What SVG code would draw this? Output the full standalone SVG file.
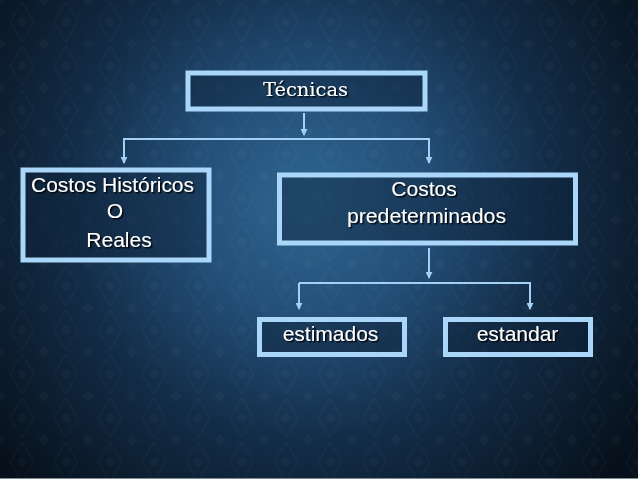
<svg xmlns="http://www.w3.org/2000/svg" width="638" height="479" viewBox="0 0 638 479">
<defs>
<radialGradient id="bg" cx="310" cy="200" r="400" gradientUnits="userSpaceOnUse">
<stop offset="0" stop-color="#2f6690"/>
<stop offset="0.3" stop-color="#234f78"/>
<stop offset="0.6" stop-color="#132d48"/>
<stop offset="1" stop-color="#07111c"/>
</radialGradient>
<pattern id="damask" width="44" height="44" patternUnits="userSpaceOnUse">
<path d="M22 2 L34 22 L22 42 L10 22 Z" fill="none" stroke="#ffffff" stroke-width="1.5"/>
<circle cx="22" cy="22" r="4" fill="#ffffff"/>
<path d="M0 0 L6 0 L0 6 Z M44 0 L38 0 L44 6 Z M0 44 L6 44 L0 38 Z M44 44 L38 44 L44 38 Z" fill="#ffffff"/>
</pattern>
<filter id="shadow" x="-10%" y="-30%" width="130%" height="170%">
<feDropShadow dx="1.5" dy="1.5" stdDeviation="0.6" flood-color="#000000" flood-opacity="0.85"/>
</filter>
<marker id="arrow" viewBox="0 0 8 8" refX="7" refY="4" markerWidth="7" markerHeight="7" markerUnits="userSpaceOnUse" orient="auto">
<path d="M0 0 L8 4 L0 8 Z" fill="#a3d0f3"/>
</marker>
<style>
.box{fill:#0e2238;fill-opacity:0.45;stroke:#aad7f9;stroke-width:5}
.lbl{font-family:"Liberation Sans",Arial,sans-serif;font-size:21px;fill:#ffffff;filter:url(#shadow)}
.ser{font-family:"DejaVu Serif","Liberation Serif",serif;font-size:19px;fill:#ffffff;filter:url(#shadow)}
.con{fill:none;stroke:#a3d0f3;stroke-width:2}
</style>
</defs>
<rect x="0" y="0" width="638" height="479" fill="url(#bg)"/>
<rect x="0" y="0" width="638" height="479" fill="url(#damask)" opacity="0.025"/>
<rect x="0" y="478" width="638" height="1" fill="#7f8b96"/>

<g id="connectors">
<line class="con" x1="304" y1="113" x2="304" y2="135" marker-end="url(#arrow)"/>
<polyline class="con" points="124,163 124,139 429,139 429,163" marker-end="url(#arrow)"/>
<line class="con" x1="124" y1="139" x2="124" y2="163" marker-end="url(#arrow)"/>
<line class="con" x1="429" y1="248" x2="429" y2="278" marker-end="url(#arrow)"/>
<polyline class="con" points="299,283 530,283 530,309" marker-end="url(#arrow)"/>
<line class="con" x1="299" y1="283" x2="299" y2="309" marker-end="url(#arrow)"/>
</g>

<g id="tecnicas">
<rect class="box" x="188" y="73" width="237" height="36"/>
<text class="ser" x="305.5" y="96" text-anchor="middle" textLength="85" lengthAdjust="spacingAndGlyphs">Técnicas</text>
</g>

<g id="costos-historicos">
<rect class="box" x="23" y="170" width="186" height="90"/>
<text class="lbl" x="31" y="192" textLength="163" lengthAdjust="spacingAndGlyphs">Costos Históricos</text>
<text class="lbl" x="115" y="218" text-anchor="middle">O</text>
<text class="lbl" x="119" y="247" text-anchor="middle">Reales</text>
</g>

<g id="costos-predeterminados">
<rect class="box" x="279.5" y="175" width="296" height="68"/>
<text class="lbl" x="424" y="196" text-anchor="middle">Costos</text>
<text class="lbl" x="426.5" y="223" text-anchor="middle" textLength="159" lengthAdjust="spacingAndGlyphs">predeterminados</text>
</g>

<g id="estimados">
<rect class="box" x="259.5" y="319.5" width="145" height="35"/>
<text class="lbl" x="330.5" y="341" text-anchor="middle">estimados</text>
</g>

<g id="estandar">
<rect class="box" x="445.5" y="319.5" width="145" height="35"/>
<text class="lbl" x="517.5" y="341" text-anchor="middle">estandar</text>
</g>
</svg>
